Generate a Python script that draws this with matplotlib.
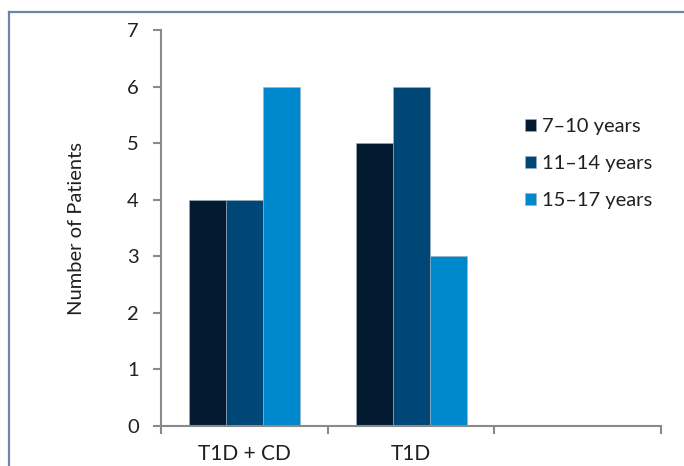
import matplotlib
matplotlib.use("Agg")
import matplotlib.pyplot as plt
from matplotlib.lines import Line2D
import numpy as np

categories = ["T1D + CD", "T1D", ""]
series_names = ["7\u201310 years", "11\u201314 years", "15\u201317 years"]
values_7_10 = [4, 5, 0]
values_11_14 = [4, 6, 0]
values_15_17 = [6, 3, 0]
colors = ["#041a30", "#004677", "#0088cc"]
y_ticks = [0, 1, 2, 3, 4, 5, 6, 7]

plt.rcParams["font.family"] = ["Lato", "DejaVu Sans"]
text_color = "#231f20"
spine_color = "#8a8a8a"
fs = 14.5

fig = plt.figure(figsize=(6.84, 4.66), dpi=100)
ax = fig.add_axes([161 / 684, 1 - 426 / 466, 500 / 684, 396 / 466])

x = np.arange(len(categories))
width = 0.222
series = [values_7_10, values_11_14, values_15_17]
for i, (vals, name, col) in enumerate(zip(series, series_names, colors)):
    v = np.array(vals[:2], dtype=float)
    ax.bar(x[:2] + (i - 1) * width, v, width, color=col, label=name,
           edgecolor="#9fb0c0", linewidth=0.4, zorder=2)

ax.set_xlim(-0.5, 2.5)
ax.set_ylim(0, 7)
ax.set_yticks(y_ticks)
ax.set_yticklabels([str(t) for t in y_ticks], fontsize=fs, color=text_color)

# category boundaries carry the tick marks; labels sit at the centres
ax.set_xticks([-0.5, 0.5, 1.5, 2.5])
ax.set_xticklabels([])
ax.set_xticks(x[:2], minor=True)
ax.set_xticklabels(categories[:2], minor=True, fontsize=fs + 0.5, color=text_color)
ax.tick_params(axis="x", which="minor", length=0, pad=13)
ax.tick_params(axis="x", which="major", length=6, width=1.5, color=spine_color, direction="out")
ax.tick_params(axis="y", length=6, width=1.5, color=spine_color, direction="out", pad=10)

for s in ["top", "right"]:
    ax.spines[s].set_visible(False)
for s in ["left", "bottom"]:
    ax.spines[s].set_color(spine_color)
    ax.spines[s].set_linewidth(1.5)

ax.set_ylabel("Number of Patients", fontsize=fs, color=text_color, va="center")
ax.yaxis.set_label_coords((77 - 161) / 500, 0.5)

leg = ax.legend(loc="center left", bbox_to_anchor=(0.728, 0.662), frameon=False,
                fontsize=fs, handlelength=0.55, handleheight=0.55, handletextpad=0.3,
                labelspacing=1.0, borderpad=0, borderaxespad=0, labelcolor=text_color)

# partial frame around the figure
frame_col = "#6a86ad"
fig.add_artist(Line2D([9 / 684, 1.0], [1 - 12 / 466, 1 - 12 / 466],
                      transform=fig.transFigure, color=frame_col, linewidth=1.6))
fig.add_artist(Line2D([9 / 684, 9 / 684], [0.0, 1 - 12 / 466],
                      transform=fig.transFigure, color=frame_col, linewidth=1.6))

fig.savefig("out.png", dpi=100)
